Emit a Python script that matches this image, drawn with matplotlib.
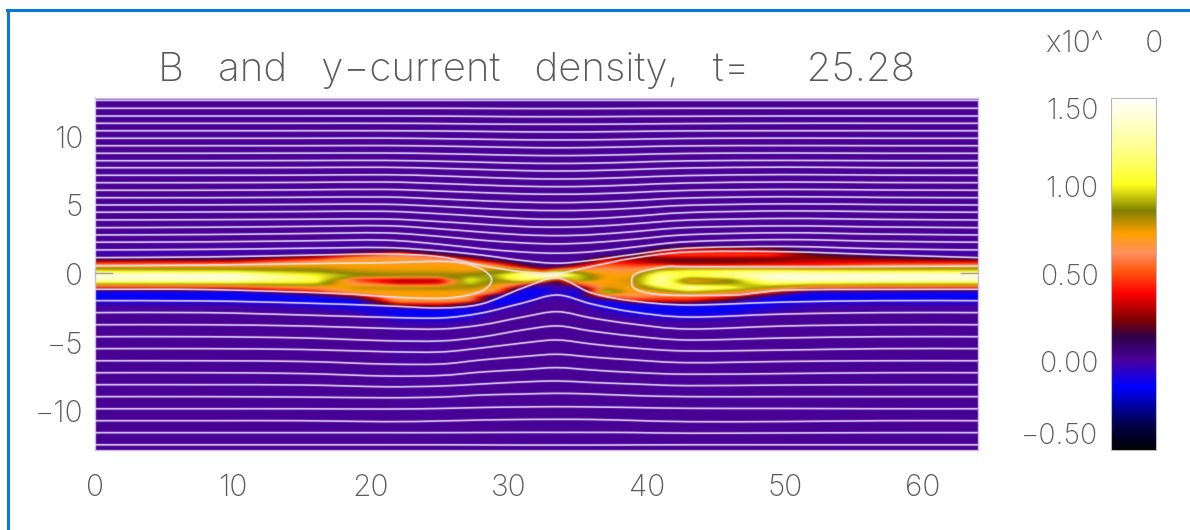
import matplotlib
matplotlib.use('Agg')
import matplotlib.pyplot as plt
import numpy as np
from matplotlib.colors import LinearSegmentedColormap, to_rgb
from matplotlib.lines import Line2D
from matplotlib.patches import PathPatch
from matplotlib.path import Path

title_text = 'B   and   y\u2212current   density,   t=     25.28'
scale_text = 'x10^     0'
x_ticks = [0, 10, 20, 30, 40, 50, 60]
y_ticks = [-10, -5, 0, 5, 10]
bar_ticks = [-0.5, 0.0, 0.5, 1.0, 1.5]
bar_labels = ['\u22120.50', '0.00', '0.50', '1.00', '1.50']

# current density on an uneven grid
j_x = [0, 10, 16, 19, 22, 25, 27, 29, 31, 32.5, 33.5, 35, 37, 39, 41, 43, 46, 49, 52, 57, 64]
j_y = [2.6, 2.1, 1.7, 1.4, 1.1, 0.8, 0.5, 0.2, -0.1, -0.4, -0.7, -1.0, -1.3, -1.6, -1.9, -2.2, -2.6, -3.0, -3.4, -3.8]
j_background = 0.02
j_columns = [
    [.02, .01, -.01, -.03, .05, .42, .72, .98, 1.40, 1.35, .85, .35, -.13, -.14, -.12, -.03, .01, .02, .02, .02],
    [.02, .01, -.01, -.02, .10, .45, .72, .95, 1.40, 1.38, .88, .38, -.12, -.14, -.12, -.04, .01, .02, .02, .02],
    [.02, .00, -.03, .05, .40, .70, .76, .86, 1.00, 1.10, .92, .62, .35, -.10, -.14, -.10, -.02, .02, .02, .02],
    [.02, -.01, .02, .30, .68, .72, .73, .78, .86, .42, .62, .78, .70, .25, -.13, -.14, -.08, .00, .02, .02],
    [.02, .00, .10, .55, .68, .70, .72, .76, .84, .28, .34, .80, .72, .72, .68, .30, -.14, -.14, -.06, .00],
    [.02, .01, .00, .15, .60, .70, .72, .76, .84, .28, .36, .82, .72, .72, .68, .35, -.13, -.14, -.08, .00],
    [.02, .01, .00, -.01, .30, .68, .72, .74, .84, 1.00, .95, .80, .72, .70, .62, .10, -.14, -.12, -.04, .01],
    [.02, .02, .01, -.01, .02, .35, .72, .82, .90, .85, .76, .72, .55, -.05, -.14, -.14, -.05, .01, .02, .02],
    [.02, .02, .01, .00, .02, .03, .30, .90, 1.20, 1.10, .55, -.05, -.14, -.14, -.13, -.05, .00, .01, .02, .02],
    [.02, .02, .02, .01, .01, .02, .05, .45, 1.45, .90, .05, -.10, -.13, -.08, -.01, .01, .02, .02, .02, .02],
    [.02, .02, .02, .02, .01, .01, .08, .90, 1.45, .25, .05, -.03, -.04, -.02, .00, .01, .02, .02, .02, .02],
    [.02, .02, .02, .01, .00, .05, .42, .75, .95, .95, .50, -.05, -.13, -.13, -.05, .00, .02, .02, .02, .02],
    [.02, .02, .01, .00, .30, .45, .55, .68, .72, .72, .72, .78, .95, .50, -.10, -.14, -.08, .00, .02, .02],
    [.02, .02, .00, .12, .26, .36, .52, .65, .72, .78, .75, .72, .70, .62, .40, -.10, -.14, -.08, .00, .02],
    [.02, .01, .22, .44, .20, .26, .60, .95, 1.20, 1.25, 1.30, .95, .72, .55, .40, -.08, -.14, -.10, -.02, .01],
    [.02, .02, .38, .46, .20, .22, .55, 1.05, 1.05, .72, .76, 1.30, .85, .55, .40, -.05, -.14, -.10, -.03, .01],
    [.02, .02, .35, .46, .20, .24, .55, 1.10, 1.20, .80, .86, 1.05, .70, .42, .10, -.12, -.14, -.08, -.02, .01],
    [.02, .01, .28, .44, .20, .30, .55, 1.10, 1.40, 1.35, 1.05, .75, .45, -.08, -.14, -.12, -.05, .00, .02, .02],
    [.02, .02, .00, .18, .26, .36, .50, 1.05, 1.40, 1.38, .95, .50, -.08, -.14, -.13, -.05, .00, .02, .02, .02],
    [.02, .02, .00, -.01, .20, .40, .65, 1.00, 1.42, 1.38, .90, .42, -.10, -.14, -.12, -.03, .01, .02, .02, .02],
    [.02, .01, -.01, -.02, .10, .42, .72, .98, 1.42, 1.38, .88, .38, -.12, -.14, -.12, -.03, .01, .02, .02, .02],
]

# field lines, height of each one at the same x stations
line_x = [0, 8, 15, 21, 25, 28, 31, 33.5, 36, 39, 43, 50, 57, 64]
upper_lines = [
    [12.63, 12.63, 12.63, 12.63, 12.63, 12.63, 12.63, 12.63, 12.63, 12.63, 12.63, 12.63, 12.63, 12.63],
    [12.05, 12.05, 12.05, 12.05, 12.05, 12.04, 12.03, 12.03, 12.03, 12.04, 12.05, 12.05, 12.05, 12.05],
    [11.49, 11.49, 11.49, 11.49, 11.48, 11.46, 11.44, 11.44, 11.44, 11.46, 11.47, 11.49, 11.49, 11.49],
    [10.96, 10.96, 10.96, 10.96, 10.94, 10.91, 10.89, 10.89, 10.89, 10.91, 10.94, 10.96, 10.96, 10.96],
    [10.42, 10.42, 10.42, 10.42, 10.40, 10.37, 10.34, 10.33, 10.34, 10.37, 10.41, 10.42, 10.42, 10.42],
    [9.87, 9.87, 9.87, 9.88, 9.84, 9.80, 9.76, 9.75, 9.76, 9.80, 9.86, 9.88, 9.87, 9.87],
    [9.33, 9.33, 9.33, 9.34, 9.30, 9.25, 9.20, 9.18, 9.20, 9.25, 9.32, 9.34, 9.33, 9.33],
    [8.78, 8.78, 8.79, 8.80, 8.75, 8.69, 8.63, 8.61, 8.63, 8.69, 8.77, 8.80, 8.78, 8.78],
    [8.24, 8.24, 8.25, 8.26, 8.20, 8.13, 8.06, 8.04, 8.06, 8.13, 8.23, 8.26, 8.24, 8.24],
    [7.73, 7.73, 7.74, 7.76, 7.68, 7.60, 7.52, 7.49, 7.52, 7.60, 7.71, 7.77, 7.73, 7.73],
    [7.18, 7.18, 7.19, 7.22, 7.13, 7.03, 6.94, 6.91, 6.94, 7.03, 7.16, 7.23, 7.19, 7.18],
    [6.64, 6.64, 6.66, 6.69, 6.58, 6.47, 6.38, 6.35, 6.38, 6.48, 6.62, 6.69, 6.65, 6.64],
    [6.09, 6.09, 6.12, 6.15, 6.03, 5.92, 5.83, 5.80, 5.83, 5.93, 6.08, 6.15, 6.11, 6.09],
    [5.55, 5.55, 5.58, 5.60, 5.46, 5.33, 5.23, 5.19, 5.23, 5.35, 5.53, 5.62, 5.57, 5.55],
    [5.02, 5.03, 5.06, 5.07, 4.92, 4.77, 4.65, 4.61, 4.65, 4.78, 5.00, 5.10, 5.05, 5.02],
    [4.49, 4.51, 4.54, 4.56, 4.38, 4.20, 4.03, 3.98, 4.03, 4.20, 4.47, 4.59, 4.53, 4.49],
    [3.93, 3.95, 3.98, 4.00, 3.81, 3.62, 3.45, 3.40, 3.46, 3.65, 3.92, 4.04, 3.97, 3.93],
    [3.37, 3.40, 3.46, 3.51, 3.28, 3.05, 2.85, 2.79, 2.86, 3.08, 3.38, 3.50, 3.42, 3.37],
    [2.84, 2.87, 2.94, 2.99, 2.73, 2.46, 2.26, 2.19, 2.28, 2.52, 2.86, 3.00, 2.90, 2.84],
    [2.31, 2.34, 2.41, 2.46, 2.16, 1.84, 1.60, 1.51, 1.62, 1.95, 2.35, 2.50, 2.38, 2.31],
    [1.75, 1.79, 1.87, 1.92, 1.68, 1.38, 0.98, 0.78, 1.00, 1.42, 1.88, 2.00, 1.83, 1.75],
    [1.19, 1.24, 1.36, 1.45, 1.25, 0.62, 0.15, 0.05, 0.55, 1.15, 1.60, 1.62, 1.40, 1.19],
]
lower_lines = [
    [-1.94, -1.96, -2.11, -2.31, -2.47, -2.18, -1.02, -0.29, -1.38, -1.96, -2.25, -2.04, -1.94, -1.94],
    [-2.81, -2.81, -2.98, -3.15, -3.20, -2.84, -2.11, -1.53, -2.18, -2.76, -3.13, -2.91, -2.81, -2.81],
    [-3.69, -3.69, -3.78, -3.95, -4.00, -3.71, -3.13, -2.74, -3.20, -3.64, -4.00, -3.78, -3.69, -3.69],
    [-4.56, -4.56, -4.65, -4.85, -4.87, -4.58, -4.07, -3.78, -4.15, -4.51, -4.80, -4.65, -4.56, -4.56],
    [-5.43, -5.43, -5.49, -5.65, -5.67, -5.38, -5.02, -4.80, -5.09, -5.38, -5.60, -5.53, -5.43, -5.43],
    [-6.31, -6.31, -6.36, -6.55, -6.55, -6.25, -6.00, -5.84, -6.04, -6.25, -6.45, -6.36, -6.31, -6.31],
    [-7.18, -7.18, -7.24, -7.42, -7.38, -7.13, -6.95, -6.81, -6.98, -7.16, -7.29, -7.24, -7.18, -7.18],
    [-8.05, -8.05, -8.07, -8.20, -8.15, -8.00, -7.85, -7.78, -7.89, -8.00, -8.12, -8.07, -8.05, -8.05],
    [-8.92, -8.92, -8.95, -9.00, -8.95, -8.80, -8.73, -8.68, -8.73, -8.84, -8.92, -8.92, -8.92, -8.92],
    [-9.80, -9.80, -9.80, -9.82, -9.78, -9.71, -9.67, -9.65, -9.67, -9.71, -9.77, -9.78, -9.80, -9.80],
    [-10.67, -10.67, -10.67, -10.74, -10.69, -10.62, -10.58, -10.57, -10.58, -10.65, -10.74, -10.73, -10.67, -10.67],
    [-11.54, -11.54, -11.54, -11.54, -11.54, -11.53, -11.52, -11.52, -11.52, -11.53, -11.58, -11.56, -11.54, -11.54],
    [-12.42, -12.42, -12.42, -12.42, -12.42, -12.43, -12.44, -12.44, -12.44, -12.43, -12.42, -12.42, -12.42, -12.42],
]

# the two lines that turn round inside the islands
left_loop_x = [0, 8, 15, 21, 25.7, 27.9, 28.75, 27.9, 25.5, 22, 17.2, 8, 0]
left_loop_y = [0.60, 0.65, 0.75, 0.82, 0.90, 0.41, -0.44, -1.29, -1.75, -1.70, -1.40, -1.13, -1.11]
right_loop_x = [64, 57, 50, 43, 41.4, 39.3, 38.9, 39.3, 41.4, 46.2, 48, 50.4, 57, 64]
right_loop_y = [0.58, 0.55, 0.53, 0.53, 0.53, 0.07, -0.56, -1.16, -1.53, -1.53, -1.36, -1.16, -1.12, -1.11]

cmap_stops = [
    (-0.50, '#000000'), (-0.35, '#000050'), (-0.14, '#0000ff'), (0.01, '#4a009c'),
    (0.14, '#30004a'), (0.24, '#800000'), (0.39, '#ff0000'), (0.52, '#ff5a10'),
    (0.62, '#ff9060'), (0.73, '#ffa000'), (0.86, '#808000'), (0.96, '#d8d810'),
    (1.01, '#ffff20'), (1.18, '#ffff80'), (1.50, '#ffffff'),
]
text_color = '#5a5a5a'
line_color = '#efe6fc'
font_name = ['Inter', 'DejaVu Sans']


def make_cmap():
    stops = [((v + 0.5) / 2.0, c) for v, c in cmap_stops]
    return LinearSegmentedColormap.from_list('idl_current', stops, N=512)


def blur(img, sx, sy):
    rx, ry = int(3 * sx) + 1, int(3 * sy) + 1
    pad = np.pad(img, ((ry, ry), (rx, rx), (0, 0)), mode='edge')
    for axis, s, r in ((1, sx, rx), (0, sy, ry)):
        out = np.zeros_like(pad)
        weights = np.exp(-0.5 * (np.arange(-r, r + 1) / s) ** 2)
        for shift, wt in zip(range(-r, r + 1), weights / weights.sum()):
            out += wt * np.roll(pad, shift, axis=axis)
        pad = out
    return pad[ry:-ry, rx:-rx]


def field_filter(img, dpi):
    # the reference is an enlarged, soft image
    return blur(img, 4.0, 1.0), 0, 0


def line_filter(img, dpi):
    out = np.empty_like(img)
    out[..., :3] = to_rgb(line_color)
    alpha = np.pad(img[..., 3:], ((2, 2), (2, 2), (0, 0)))
    out = np.pad(out, ((2, 2), (2, 2), (0, 0)), mode='edge')
    out[..., 3:] = blur(alpha, 0.55, 0.55)
    return out, -2, -2


def smooth_path(x, y):
    # bezier curve going through the read points
    p = np.column_stack([x, y])
    before = np.vstack([p[0], p[:-1]])
    after = np.vstack([p[1:], p[-1]])
    verts = [p[0]]
    for i in range(len(p) - 1):
        verts.append(p[i] + (after[i] - before[i]) / 6.0)
        verts.append(p[i + 1] - (after[i + 1] - before[i + 1]) / 6.0)
        verts.append(p[i + 1])
    codes = [Path.MOVETO] + [Path.CURVE4] * (len(verts) - 1)
    return Path(verts, codes)


def draw_line(ax, x, y):
    patch = PathPatch(smooth_path(x, y), fc='none', ec=line_color, lw=1.15, zorder=3)
    patch.set_agg_filter(line_filter)
    ax.add_patch(patch)


def plot_field(ax, cmap):
    y = [12.8] + j_y + [-12.8]
    grid = np.pad(np.array(j_columns).T, ((1, 1), (0, 0)), constant_values=j_background)
    levels = np.linspace(-0.5, 1.5, 257)
    cs = ax.contourf(j_x, y, grid, levels=levels, cmap=cmap, vmin=-0.5, vmax=1.5, antialiased=False)
    cs.set_agg_filter(field_filter)

    for line in upper_lines + lower_lines:
        draw_line(ax, line_x, line)
    draw_line(ax, left_loop_x, left_loop_y)
    draw_line(ax, right_loop_x, right_loop_y)

    ax.set_xlim(0, 64)
    ax.set_ylim(-12.8, 12.8)
    ax.set_xticks(x_ticks)
    ax.set_yticks(y_ticks)
    ax.tick_params(length=0, labelsize=21.5, labelcolor=text_color)
    ax.tick_params(axis='x', pad=17)
    ax.tick_params(axis='y', pad=8.5)
    for label in ax.get_xticklabels() + ax.get_yticklabels():
        label.set_fontfamily(font_name)
        label.set_fontweight('light')
    # only the zero tick shows up against the sheet
    ax.plot([0, 1.2], [0.1, 0.1], c='#a0a0a0', lw=1.0, zorder=4)
    ax.plot([62.8, 64], [0.1, 0.1], c='#a0a0a0', lw=1.0, zorder=4)
    for spine in ax.spines.values():
        spine.set_color('#cbbde0')
        spine.set_linewidth(1.0)


def plot_bar(cax, cmap):
    values = np.linspace(1.5, -0.5, 512).reshape(-1, 1)
    cax.imshow(values, cmap=cmap, vmin=-0.5, vmax=1.5, aspect='auto', extent=[0, 1, -0.5, 1.5])
    cax.set_xticks([])
    cax.set_yticks(bar_ticks)
    cax.set_yticklabels(bar_labels, family=font_name, fontweight='light')
    cax.tick_params(length=0, labelsize=20.5, labelcolor=text_color, pad=9)
    labels = cax.get_yticklabels()
    labels[0].set_verticalalignment('bottom')
    labels[-1].set_verticalalignment('top')
    for spine in cax.spines.values():
        spine.set_color('#b8b8b8')
        spine.set_linewidth(0.8)


def main():
    fig = plt.figure(figsize=(11.9, 5.3), dpi=100)
    cmap = make_cmap()

    w, h = 1190.0, 530.0
    ax = fig.add_axes([95 / w, 1 - 450 / h, 883 / w, 352 / h])
    cax = fig.add_axes([1111 / w, 1 - 450 / h, 45 / w, 352 / h])
    plot_field(ax, cmap)
    plot_bar(cax, cmap)

    fig.text(537 / w, 1 - 81 / h, title_text, ha='center', va='baseline', fontsize=29,
             color=text_color, family=font_name, fontweight='light')
    fig.text(1046 / w, 1 - 44 / h, scale_text, ha='left', va='center', fontsize=21.5,
             color=text_color, family=font_name, fontweight='light')

    # blue frame round the page
    fig.add_artist(Line2D([8 / w, 8 / w], [0, 1 - 10 / h], color='#0a78d2', lw=2.2))
    fig.add_artist(Line2D([7 / w, 1], [1 - 10 / h, 1 - 10 / h], color='#0a78d2', lw=2.2))

    fig.savefig('out.png', dpi=100)


if __name__ == '__main__':
    main()
